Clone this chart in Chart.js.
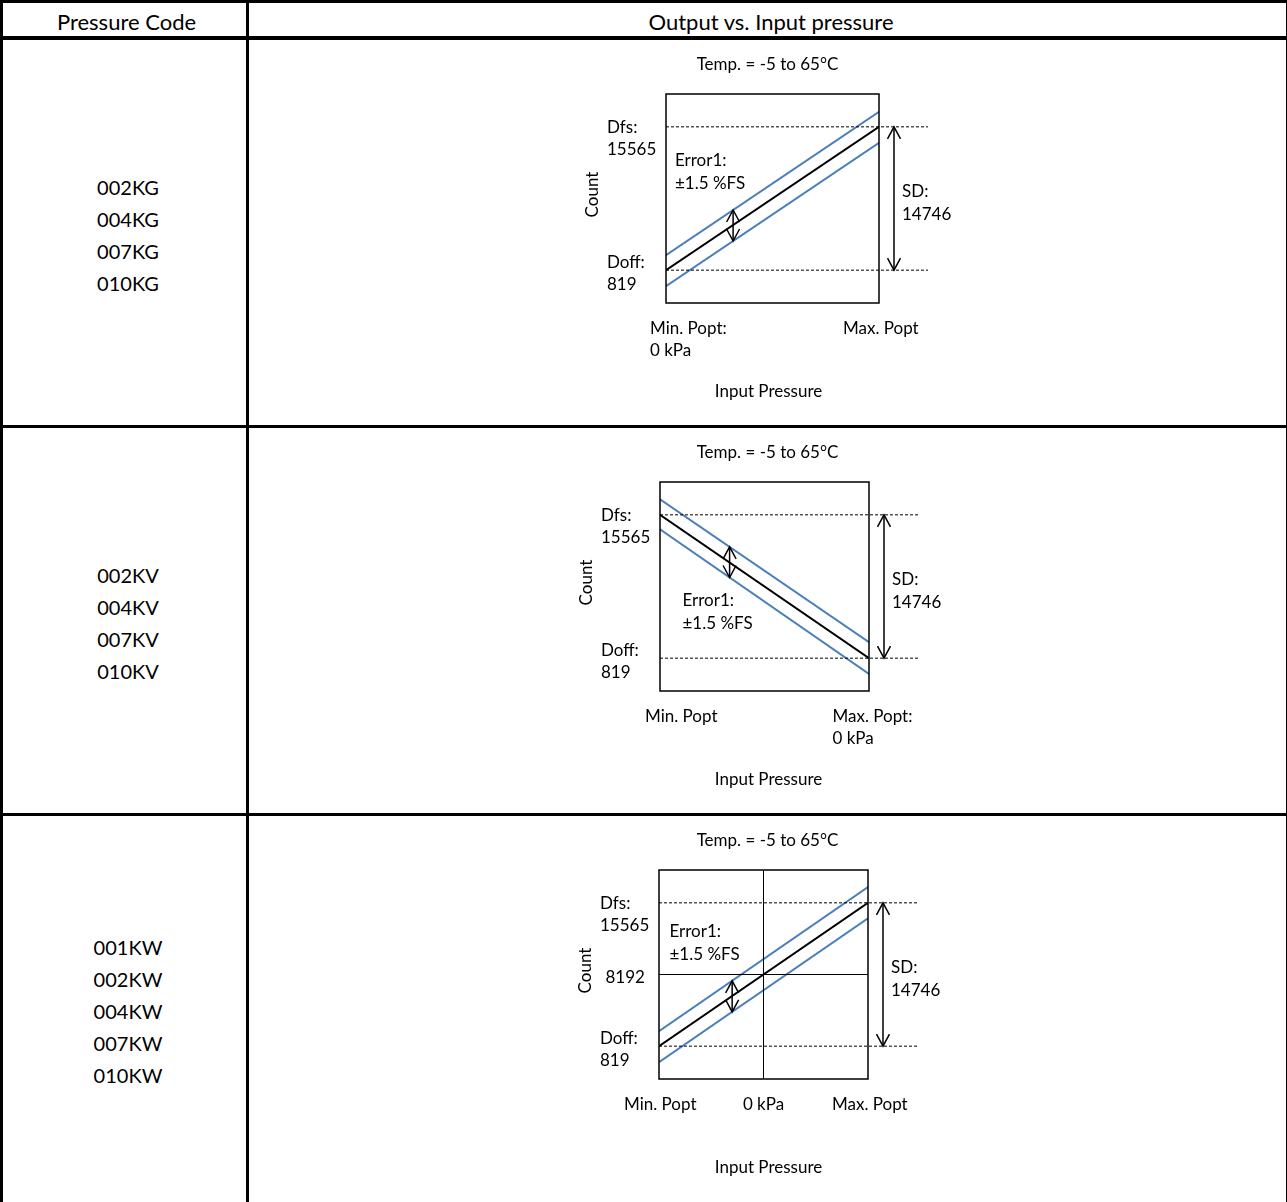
<!DOCTYPE html>
<html>
<head>
<meta charset="utf-8">
<title>Output vs. Input pressure</title>
<script src="https://cdn.jsdelivr.net/npm/chart.js@4.4.1/dist/chart.umd.min.js"></script>
<style>
  body { margin: 0; background: #fff; }
  #page { position: relative; width: 1287px; height: 1202px; overflow: hidden; font-family: Lato, sans-serif; color: #000; }
  .rule { position: absolute; background: #000; }
  .txt { position: absolute; transform: translate(-50%, -50%); white-space: nowrap; line-height: 1; font-size: 20px; }
  .txt.head { font-size: 22px; }
  canvas { position: absolute; left: 249px; }
</style>
</head>
<body>
<div id="page">
  <div class="rule" style="left:0;top:0;width:1287px;height:3px"></div>
  <div class="rule" style="left:0;top:0;width:3px;height:1202px"></div>
  <div class="rule" style="left:1286px;top:0;width:1px;height:1202px"></div>
  <div class="rule" style="left:246px;top:0;width:2.5px;height:1202px"></div>
  <div class="rule" style="left:0;top:36px;width:1287px;height:4px"></div>
  <div class="rule" style="left:0;top:425px;width:1287px;height:2.5px"></div>
  <div class="rule" style="left:0;top:813px;width:1287px;height:2.5px"></div>
  <canvas id="chartKG" width="1037" height="385" style="top:40px"></canvas>
  <canvas id="chartKV" width="1037" height="385" style="top:428px"></canvas>
  <canvas id="chartKW" width="1037" height="385" style="top:816px"></canvas>
</div>
<script>
const headers = ["Pressure Code", "Output vs. Input pressure"];
const codesKG = ["002KG", "004KG", "007KG", "010KG"];
const codesKV = ["002KV", "004KV", "007KV", "010KV"];
const codesKW = ["001KW", "002KW", "004KW", "007KW", "010KW"];

const dfs = 15565;
const doff = 819;
const dmid = 8192;
const sd = 14746;
const countRange = [-2560, 18944];

const tempTitle = "Temp. = -5 to 65°C";
const errorText = ["Error1:", "±1.5 %FS"];

// pression normalisée : 0 = Min. Popt, 1 = Max. Popt (KW : -1 = Min, 0 = 0 kPa, 1 = Max)
const pressureKG = [0, 1];
const outputKG = [819, 15565];
const upperKG = [2362, 17108];
const lowerKG = [-827, 13919];
const ticksKG = [[0, "Min. Popt:", "0 kPa"], [1, "Max. Popt"]];

const pressureKV = [0, 1];
const outputKV = [15565, 819];
const upperKV = [17160, 2455];
const lowerKV = [14073, -807];
const ticksKV = [[0, "Min. Popt"], [1, "Max. Popt:", "0 kPa"]];

const pressureKW = [-1, 1];
const outputKW = [819, 15565];
const upperKW = [2352, 17191];
const lowerKW = [-838, 13970];
const ticksKW = [[-1, "Min. Popt"], [0, "0 kPa"], [1, "Max. Popt"]];

const blue = "#4a7ebb";
const font = "17px Lato";

// Tableau HTML
const page = document.getElementById("page");
function label(text, cx, cy, cls) {
  const d = document.createElement("div");
  d.className = cls ? "txt " + cls : "txt";
  d.textContent = text;
  d.style.left = cx + "px";
  d.style.top = cy + "px";
  page.appendChild(d);
}
label(headers[0], 126.5, 22, "head");
label(headers[1], 771, 22, "head");
[[codesKG, 187], [codesKV, 575], [codesKW, 947]].forEach(([codes, top]) => {
  codes.forEach((c, i) => label(c, 128, top + i * 32));
});

function line(ctx, x1, y1, x2, y2) {
  ctx.beginPath();
  ctx.moveTo(x1, y1);
  ctx.lineTo(x2, y2);
  ctx.stroke();
}

function arrow(ctx, x, ya, yb) {
  const t = Math.min(ya, yb), b = Math.max(ya, yb);
  ctx.lineWidth = 1.5;
  line(ctx, x, t, x, b);
  ctx.beginPath();
  ctx.moveTo(x - 6.5, t + 12); ctx.lineTo(x, t); ctx.lineTo(x + 6.5, t + 12);
  ctx.moveTo(x - 6.5, b - 12); ctx.lineTo(x, b); ctx.lineTo(x + 6.5, b - 12);
  ctx.stroke();
}

function interp(xs, ys, v) {
  const f = (v - xs[0]) / (xs[1] - xs[0]);
  return ys[0] + f * (ys[1] - ys[0]);
}

// Plugin : cadre, pointillés, flèches et textes du schéma
function diagram(spec) {
  return {
    id: "diagram",
    afterDatasetsDraw(chart) {
      const { ctx, chartArea: a, scales } = chart;
      const sx = scales.x, sy = scales.y;
      const yFs = sy.getPixelForValue(dfs), yOff = sy.getPixelForValue(doff);
      ctx.save();
      ctx.strokeStyle = "#000";
      if (spec.cross) {
        ctx.lineWidth = 1;
        const cx = sx.getPixelForValue(0), cy = sy.getPixelForValue(dmid);
        line(ctx, a.left, cy, a.right, cy);
        line(ctx, cx, a.top, cx, a.bottom);
      }
      ctx.lineWidth = 1;
      ctx.setLineDash([3, 2]);
      line(ctx, a.left, yFs, a.right + 49, yFs);
      line(ctx, a.left, yOff, a.right + 49, yOff);
      ctx.setLineDash([]);
      ctx.lineWidth = 1.5;
      ctx.strokeRect(a.left, a.top, a.right - a.left, a.bottom - a.top);
      arrow(ctx, a.right + 15, yFs, yOff);
      const ex = sx.getPixelForValue(spec.errX);
      arrow(ctx, ex, sy.getPixelForValue(interp(spec.x, spec.upper, spec.errX)),
        sy.getPixelForValue(interp(spec.x, spec.lower, spec.errX)));

      ctx.fillStyle = "#000";
      ctx.font = font;
      ctx.textBaseline = "middle";
      ctx.textAlign = "center";
      ctx.translate(0, 1.5);
      ctx.fillText(tempTitle, chart.width / 2, a.top - 31);
      ctx.fillText("Input Pressure", chart.width / 2 + 1, a.bottom + 87);
      ctx.save();
      ctx.translate(a.left - 73, (a.top + a.bottom) / 2 - 5.5);
      ctx.rotate(-Math.PI / 2);
      ctx.fillText("Count", 0, 0);
      ctx.restore();

      ctx.textAlign = "left";
      const lx = a.left - 59;
      ctx.fillText("Dfs:", lx, yFs - 1);
      ctx.fillText(String(dfs), lx, yFs + 21);
      ctx.fillText("Doff:", lx, yOff - 9.5);
      ctx.fillText(String(doff), lx, yOff + 13);
      if (spec.cross) ctx.fillText(String(dmid), a.left - 53.5, sy.getPixelForValue(dmid) + 2);
      const ym = (yFs + yOff) / 2;
      ctx.fillText("SD:", a.right + 23, ym - 8);
      ctx.fillText(String(sd), a.right + 23, ym + 14.5);
      ctx.fillText(errorText[0], a.left + spec.errText[0], a.top + spec.errText[1]);
      ctx.fillText(errorText[1], a.left + spec.errText[0], a.top + spec.errText[1] + 23);

      spec.ticks.forEach(([v, ...lines], i) => {
        const px = sx.getPixelForValue(v) + spec.tickDx[i];
        ctx.textAlign = spec.tickAlign[i];
        lines.forEach((t, j) => ctx.fillText(t, px, a.bottom + 24 + j * 22));
      });
      ctx.restore();
    }
  };
}

function makeChart(id, spec) {
  const pts = ys => spec.x.map((x, i) => ({ x, y: ys[i] }));
  return new Chart(document.getElementById(id), {
    type: "line",
    data: {
      datasets: [
        { data: pts(spec.output), borderColor: "#000", borderWidth: 2, pointRadius: 0 },
        { data: pts(spec.upper), borderColor: blue, borderWidth: 2, pointRadius: 0 },
        { data: pts(spec.lower), borderColor: blue, borderWidth: 2, pointRadius: 0 },
      ],
    },
    options: {
      responsive: false,
      animation: false,
      events: [],
      layout: { padding: spec.pad },
      scales: {
        x: { type: "linear", min: spec.x[0], max: spec.x[1], display: false },
        y: { type: "linear", min: countRange[0], max: countRange[1], display: false },
      },
      plugins: { legend: { display: false }, tooltip: { enabled: false } },
    },
    plugins: [diagram(spec)],
  });
}

makeChart("chartKG", {
  x: pressureKG, output: outputKG, upper: upperKG, lower: lowerKG,
  ticks: ticksKG, tickDx: [-16, -36], tickAlign: ["left", "left"],
  errX: 0.315, errText: [9, 65],
  pad: { left: 417, right: 407, top: 54, bottom: 122 },
});
makeChart("chartKV", {
  x: pressureKV, output: outputKV, upper: upperKV, lower: lowerKV,
  ticks: ticksKV, tickDx: [-15, -36.5], tickAlign: ["left", "left"],
  errX: 0.333, errText: [22.5, 117],
  pad: { left: 411, right: 417, top: 54, bottom: 122 },
});
makeChart("chartKW", {
  x: pressureKW, output: outputKW, upper: upperKW, lower: lowerKW,
  ticks: ticksKW, tickDx: [-35, 0, -36], tickAlign: ["left", "center", "left"],
  errX: -0.3, errText: [10.5, 60],
  cross: true,
  pad: { left: 410, right: 418, top: 54, bottom: 122 },
});
</script>
</body>
</html>
